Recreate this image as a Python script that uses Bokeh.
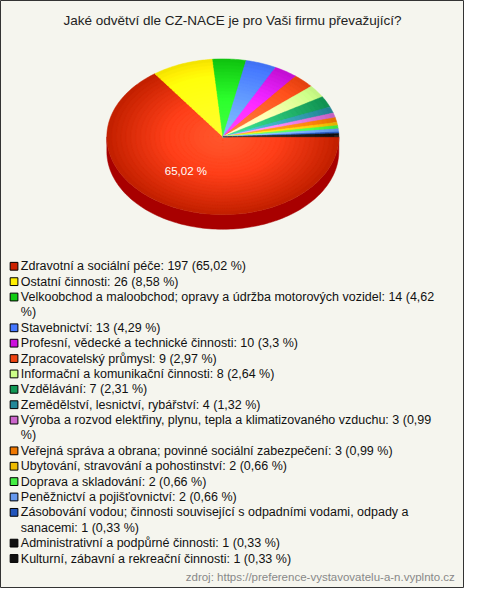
import numpy as np
from bokeh.plotting import figure
from bokeh.models import Range1d
from bokeh.core.properties import value
from bokeh.embed import file_html
from bokeh.resources import INLINE

title = "Jaké odvětví dle CZ-NACE je pro Vaši firmu převažující?"
source = "zdroj: https://preference-vystavovatelu-a-n.vyplnto.cz"

categories = [
    "Zdravotní a sociální péče",
    "Ostatní činnosti",
    "Velkoobchod a maloobchod; opravy a údržba motorových vozidel",
    "Stavebnictví",
    "Profesní, vědecké a technické činnosti",
    "Zpracovatelský průmysl",
    "Informační a komunikační činnosti",
    "Vzdělávání",
    "Zemědělství, lesnictví, rybářství",
    "Výroba a rozvod elektřiny, plynu, tepla a klimatizovaného vzduchu",
    "Veřejná správa a obrana; povinné sociální zabezpečení",
    "Ubytování, stravování a pohostinství",
    "Doprava a skladování",
    "Peněžnictví a pojišťovnictví",
    "Zásobování vodou; činnosti související s odpadními vodami, odpady a sanacemi",
    "Administrativní a podpůrné činnosti",
    "Kulturní, zábavní a rekreační činnosti",
]
counts = [197, 26, 14, 13, 10, 9, 8, 7, 4, 3, 3, 2, 2, 2, 1, 1, 1]
colors = [
    "#CC2200", "#FFEE00", "#11CC11", "#4477FF", "#CC11DD", "#EE4411",
    "#CCFF88", "#119955", "#228899", "#CC66CC", "#EE7700", "#EEBB00",
    "#44EE44", "#6699EE", "#2255BB", "#111111", "#111111",
]
# legend line breaks as in the reference (text before break, text after)
wrap_breaks = {2: "(4,62", 9: "(0,99", 14: "odpady a"}

total = sum(counts)
def pct(v):
    s = f"{100.0 * v / total:.2f}".rstrip("0").rstrip(".")
    return s.replace(".", ",")

labels = [f"{c}: {n} ({pct(n)} %)" for c, n in zip(categories, counts)]

p = figure(width=464, height=588, x_range=Range1d(0, 480), y_range=Range1d(604, 0),
           output_backend="svg", toolbar_location=None, min_border=0,
           x_axis_type=None, y_axis_type=None)
p.grid.visible = False
p.background_fill_color = "#F5F5EE"
p.border_fill_color = "#F5F5EE"
p.outline_line_color = "#333333"
p.outline_line_width = 1

# pie geometry (reference pixel units)
cx, cy, rx, ry, depth = 230.0, 140.0, 120.0, 80.0, 15.0

def hex2rgb(h):
    h = h.lstrip("#")
    return np.array([int(h[i:i + 2], 16) for i in (0, 2, 4)], dtype=float)

def rgb2hex(c):
    c = np.clip(c, 0, 255).astype(int)
    return "#%02x%02x%02x" % tuple(c)

# side (front half)
th = np.linspace(0, np.pi, 120)
sx = list(cx + rx * np.cos(th)) + list(cx + rx * np.cos(th[::-1]))
sy = list(cy + ry * np.sin(th)) + list(cy + depth + ry * np.sin(th[::-1]))
p.patch(sx, sy, fill_color="#A80000", line_color="#A80000", line_width=0.5)

fr = np.array(counts, dtype=float) / total
ends = np.cumsum(fr) * 2 * np.pi
starts = ends - fr * 2 * np.pi

xs, ys, fcs = [], [], []
nring = 24
for k in range(nring):
    t = 1.0 - k / nring
    for a0, a1, col in zip(starts, ends, colors):
        base = hex2rgb(col)
        edge = base * 0.96
        center = base * 1.25 + 45
        c = center + (edge - center) * (t ** 1.2)
        n = max(3, int((a1 - a0) * 60))
        aa = np.linspace(a0, a1, n)
        xs.append([cx] + list(cx + rx * t * np.cos(aa)))
        ys.append([cy] + list(cy + ry * t * np.sin(aa)))
        fcs.append(rgb2hex(c))
p.patches(xs, ys, fill_color=fcs, line_color=fcs, line_width=0.5)

# slice label for the biggest slice
mid = (starts[0] + ends[0]) / 2
p.text(x=[cx + rx * 0.70 * np.cos(mid)], y=[cy + ry * 0.49 * np.sin(mid)],
       text=[f"{pct(counts[0])} %"], text_font=value("Liberation Sans"),
       text_font_size="11.5px", text_color="#FFFFFF", text_align="center",
       text_baseline="middle")

# title
p.text(x=[240], y=[21], text=[title], text_font=value("Liberation Sans"),
       text_font_size="13.5px", text_color="#222222", text_align="center",
       text_baseline="middle")

# legend
lx, ly, lstep = 21.0, 273.0, 15.8
tx, ty, tt = [], [], []
qx, qy, qc = [], [], []
line = 0
for i, (lab, col) in enumerate(zip(labels, colors)):
    y = ly + line * lstep
    qx.append(14.0); qy.append(y); qc.append(col)
    if i in wrap_breaks:
        brk = wrap_breaks[i]
        pos = lab.index(brk) + len(brk)
        first, second = lab[:pos], lab[pos:].strip()
        tx += [lx, lx]; ty += [y, y + lstep]; tt += [first, second]
        line += 2
    else:
        tx.append(lx); ty.append(y); tt.append(lab)
        line += 1
p.rect(x=qx, y=qy, width=8, height=8, fill_color=qc, line_color="#000000", line_width=1)
p.text(x=tx, y=ty, text=tt, text_font=value("Liberation Sans"), text_font_size="12.5px",
       text_color="#111111", text_baseline="middle")

# source
p.text(x=[470], y=[592], text=[source], text_font=value("Liberation Sans"),
       text_font_size="11.5px", text_color="#888888", text_align="right",
       text_baseline="middle")

open("out.html", "w").write(file_html(p, INLINE))
